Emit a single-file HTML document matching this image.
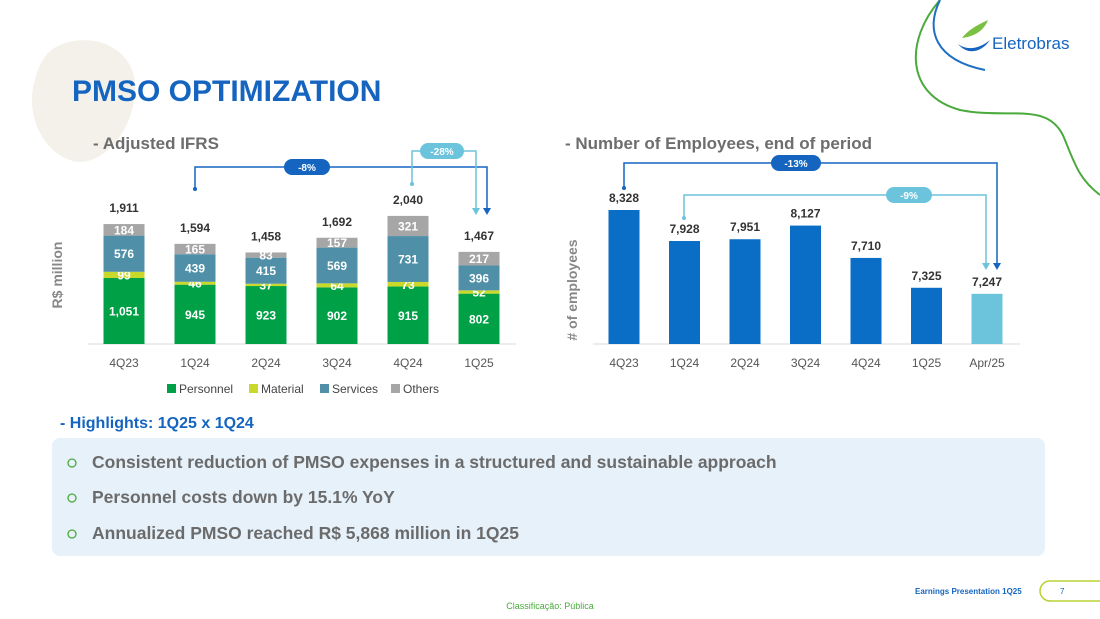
<!DOCTYPE html>
<html><head><meta charset="utf-8"><style>
body{margin:0;width:1100px;height:619px;overflow:hidden;background:#fff;font-family:"Liberation Sans",sans-serif;position:relative}
.abs{position:absolute}
</style></head><body>
<svg class="abs" style="left:0;top:0" width="1100" height="619">
<path d="M60 45 C95 30 140 50 135 95 C130 140 95 170 70 160 C40 150 25 110 35 80 C40 60 48 50 60 45Z" fill="#f3f1ea"/>
<path d="M940 0 C905 40 905 95 960 110 C1010 120 1050 100 1065 140 C1075 165 1080 180 1100 195" fill="none" stroke="#4aaa3c" stroke-width="2"/>
<path d="M940 0 C925 30 935 60 985 70" fill="none" stroke="#1f6fc3" stroke-width="2"/>
<g>
<path d="M962 38 C970 28 980 24 988 20 C984 30 976 36 962 38Z" fill="#7ac142"/>
<path d="M958 44 C966 50 978 50 990 40 C982 52 968 56 958 44Z" fill="#1565c0"/>
<text x="992" y="49" font-size="17" fill="#1565c0" font-family="Liberation Sans">Eletrobras</text>
</g>
<text x="72" y="101" font-size="30" font-weight="bold" fill="#1565c0">PMSO OPTIMIZATION</text>
<text x="93" y="149" font-size="17" font-weight="bold" fill="#6d6d6d">- Adjusted IFRS</text>
<text x="565" y="149" font-size="17" font-weight="bold" fill="#6d6d6d">- Number of Employees, end of period</text>
<g id="left"></g>
<g id="right"></g>
<text x="60" y="428" font-size="16" font-weight="bold" fill="#1565c0">- Highlights: 1Q25 x 1Q24</text>
<rect x="52" y="438" width="993" height="118" rx="8" fill="#e6f1fa"/>
<g font-size="17.5" font-weight="bold" fill="#6b6b6b">
<circle cx="72" cy="463" r="4" fill="none" stroke="#4aaa3c" stroke-width="1.3"/><text x="92" y="468">Consistent reduction of PMSO expenses in a structured and sustainable approach</text>
<circle cx="72" cy="498" r="4" fill="none" stroke="#4aaa3c" stroke-width="1.3"/><text x="92" y="503">Personnel costs down by 15.1% YoY</text>
<circle cx="72" cy="534" r="4" fill="none" stroke="#4aaa3c" stroke-width="1.3"/><text x="92" y="539">Annualized PMSO reached R$ 5,868 million in 1Q25</text>
</g>
<text x="915" y="594" font-size="8" font-weight="bold" fill="#1565c0">Earnings Presentation 1Q25</text>
<rect x="1040" y="581" width="70" height="20" rx="10" fill="none" stroke="#b5d334" stroke-width="1.5"/>
<text x="1060" y="594" font-size="8" fill="#1565c0">7</text>
<text x="550" y="609" font-size="9" fill="#4aaa3c" text-anchor="middle">Classificação: Pública</text>
</svg>
<script>
const cats=["4Q23","1Q24","2Q24","3Q24","4Q24","1Q25"];
const personnel=[1051,945,923,902,915,802];
const material=[99,46,37,64,73,52];
const services=[576,439,415,569,731,396];
const others=[184,165,83,157,321,217];
const totals=[1911,1594,1458,1692,2040,1467];
const empCats=["4Q23","1Q24","2Q24","3Q24","4Q24","1Q25","Apr/25"];
const employees=[8328,7928,7951,8127,7710,7325,7247];
const NS="http://www.w3.org/2000/svg";
function mk(p,t,a){const e=document.createElementNS(NS,t);for(const k in a)e.setAttribute(k,a[k]);p.appendChild(e);return e;}
const L=document.getElementById('left');
const base=344, sc=120/1911;
const xL=i=>124+71*i, yL=v=>base-v*sc;
let ln=mk(L,'line',{x1:88,x2:516,y1:base,y2:base,stroke:'#d9d9d9'});


const ser=[personnel,material,services,others],cols=['#00a046','#c8d92b','#4f8fa8','#a6a6a6'],sn=['personnel','material','services','others'];
cats.forEach((c,i)=>{let acc=0;
 ser.forEach((s,k)=>{const v=s[i];
  const r=mk(L,'rect',{x:xL(i)-20.5,y:yL(acc+v),width:41,height:v*sc,fill:cols[k]});
  
  
  const t=mk(L,'text',{x:xL(i),y:yL(acc+v/2)+4.5,'font-size':12,'font-weight':'bold',fill:'#fff','text-anchor':'middle'});
  t.textContent=v.toLocaleString('en-US');
  
  
  acc+=v;});
 const t=mk(L,'text',{x:xL(i),y:yL(totals[i])-12,'font-size':12,'font-weight':'bold',fill:'#333','text-anchor':'middle'});
 t.textContent=totals[i].toLocaleString('en-US');
 
 
 const x=mk(L,'text',{x:xL(i),y:367,'font-size':12,fill:'#555','text-anchor':'middle'});
 x.textContent=c;
 
 
});
const yt=mk(L,'text',{x:62,y:275,'font-size':14,'font-weight':'bold',fill:'#888','text-anchor':'middle',transform:'rotate(-90 62 275)'});
yt.textContent='R$ million';


const legX=[167,249,320,391];
['Personnel','Material','Services','Others'].forEach((n,k)=>{
 const r=mk(L,'rect',{x:legX[k],y:384,width:9,height:9,fill:cols[k]});
 
 
 const t=mk(L,'text',{x:legX[k]+12,y:393,'font-size':12,fill:'#444'});t.textContent=n;
 
 
});
function bracket(G,pts,col,lab,lx,ly,w,name){
 const p=mk(G,'polyline',{points:pts,fill:'none',stroke:col,'stroke-width':1.5});
 
 
 const r=mk(G,'rect',{x:lx-w/2,y:ly-8,width:w,height:16,rx:8,fill:col});
 
 
 const t=mk(G,'text',{x:lx,y:ly+4,'font-size':10,'font-weight':'bold',fill:'#fff','text-anchor':'middle'});t.textContent=lab;
 
 
}
mk(L,'circle',{cx:195,cy:189,r:2,fill:'#1565c0'});
bracket(L,'195,189 195,167 487,167 487,210','#1565c0','-8%',307,167,46,'left-yoy');
mk(L,'polygon',{points:'483,208 491,208 487,215',fill:'#1565c0'});
mk(L,'circle',{cx:412,cy:184,r:2,fill:'#6cc4dc'});
bracket(L,'412,184 412,151 476,151 476,210','#6cc4dc','-28%',442,151,44,'left-qoq');
mk(L,'polygon',{points:'472,208 480,208 476,215',fill:'#6cc4dc'});
const R=document.getElementById('right');
const eMin=6600, esc=134/(8328-6600);
const xR=i=>624+60.5*i, yR=v=>base-(v-eMin)*esc;
ln=mk(R,'line',{x1:593,x2:1020,y1:base,y2:base,stroke:'#d9d9d9'});


empCats.forEach((c,i)=>{
 const v=employees[i];
 const r=mk(R,'rect',{x:xR(i)-15.5,y:yR(v),width:31,height:base-yR(v),fill:i===6?'#6cc4dc':'#0a6ec6'});
 
 
 const t=mk(R,'text',{x:xR(i),y:yR(v)-8,'font-size':12,'font-weight':'bold',fill:'#333','text-anchor':'middle'});
 t.textContent=v.toLocaleString('en-US');
 
 
 const x=mk(R,'text',{x:xR(i),y:367,'font-size':12,fill:'#555','text-anchor':'middle'});x.textContent=c;
 
 
});
const yt2=mk(R,'text',{x:577,y:290,'font-size':14,'font-weight':'bold',fill:'#888','text-anchor':'middle',transform:'rotate(-90 577 290)'});
yt2.textContent='# of employees';


mk(R,'circle',{cx:624,cy:188,r:2,fill:'#1565c0'});
bracket(R,'624,188 624,163 997,163 997,265','#1565c0','-13%',796,163,50,'right-vs-4q23');
mk(R,'polygon',{points:'993,263 1001,263 997,270',fill:'#1565c0'});
mk(R,'circle',{cx:684,cy:218,r:2,fill:'#6cc4dc'});
bracket(R,'684,218 684,195 986,195 986,265','#6cc4dc','-9%',909,195,46,'right-vs-1q24');
mk(R,'polygon',{points:'982,263 990,263 986,270',fill:'#6cc4dc'});
</script>
</body></html>
